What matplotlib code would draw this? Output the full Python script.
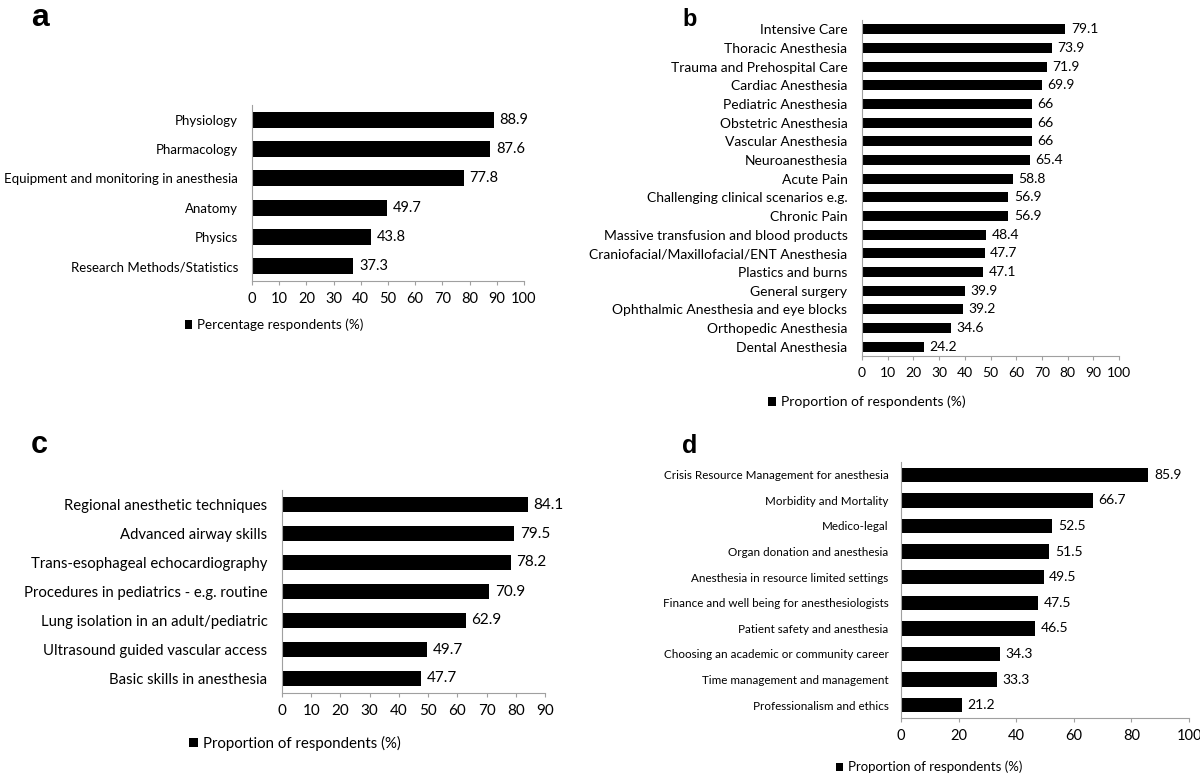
import matplotlib
matplotlib.use("Agg")
import matplotlib.pyplot as plt

plt.rcParams['font.family'] = ['Lato', 'DejaVu Sans']

W, H = 1200, 774

# panel a - basic sciences
a_labels = ["Physiology", "Pharmacology", "Equipment and monitoring in anesthesia",
            "Anatomy", "Physics", "Research Methods/Statistics"]
a_values = [88.9, 87.6, 77.8, 49.7, 43.8, 37.3]

# panel b - subspecialties
b_labels = ["Intensive Care", "Thoracic Anesthesia", "Trauma and Prehospital Care",
            "Cardiac Anesthesia", "Pediatric Anesthesia", "Obstetric Anesthesia",
            "Vascular Anesthesia", "Neuroanesthesia", "Acute Pain",
            "Challenging clinical scenarios e.g.", "Chronic Pain",
            "Massive transfusion and blood products",
            "Craniofacial/Maxillofacial/ENT Anesthesia", "Plastics and burns",
            "General surgery", "Ophthalmic Anesthesia and eye blocks",
            "Orthopedic Anesthesia", "Dental Anesthesia"]
b_values = [79.1, 73.9, 71.9, 69.9, 66, 66, 66, 65.4, 58.8, 56.9, 56.9,
            48.4, 47.7, 47.1, 39.9, 39.2, 34.6, 24.2]

# panel c - skills
c_labels = ["Regional anesthetic techniques", "Advanced airway skills",
            "Trans-esophageal echocardiography",
            "Procedures in pediatrics - e.g. routine",
            "Lung isolation in an adult/pediatric",
            "Ultrasound guided vascular access", "Basic skills in anesthesia"]
c_values = [84.1, 79.5, 78.2, 70.9, 62.9, 49.7, 47.7]

# panel d - non-clinical topics
d_labels = ["Crisis Resource Management for anesthesia", "Morbidity and Mortality",
            "Medico-legal", "Organ donation and anesthesia",
            "Anesthesia in resource limited settings",
            "Finance and well being for anesthesiologists",
            "Patient safety and anesthesia",
            "Choosing an academic or community career",
            "Time management and management", "Professionalism and ethics"]
d_values = [85.9, 66.7, 52.5, 51.5, 49.5, 47.5, 46.5, 34.3, 33.3, 21.2]

fig = plt.figure(figsize=(W / 100, H / 100), dpi=100)


def px_rect(left, right, top, bottom):
    return [left / W, 1 - bottom / H, (right - left) / W, (bottom - top) / H]


def panel(rect, labels, values, xmax, xstep, bar_h, label_fs, value_fs, tick_fs,
          ypad, legend_text, legend_fs, legend_px, letter, letter_px, letter_fs):
    ax = fig.add_axes(rect)
    n = len(labels)
    pos = [n - 1 - i for i in range(n)]
    bars = ax.barh(pos, values, height=bar_h, color='black')
    ax.set_ylim(-0.5, n - 0.5)
    ax.set_xlim(0, xmax)
    ax.set_yticks(pos)
    ax.set_yticklabels(labels, fontsize=label_fs)
    ax.set_xticks(range(0, xmax + 1, xstep))
    ax.tick_params(axis='y', length=0, pad=ypad)
    ax.tick_params(axis='x', length=3, width=0.8, color='#a0a0a0', pad=5,
                   labelsize=tick_fs)
    for s in ['top', 'right']:
        ax.spines[s].set_visible(False)
    for s in ['left', 'bottom']:
        ax.spines[s].set_color('#a0a0a0')
        ax.spines[s].set_linewidth(0.8)
    ax.bar_label(bars, labels=[f"{v:g}" for v in values], padding=4,
                 fontsize=value_fs)
    ax.legend([bars], [legend_text], loc='center',
              bbox_to_anchor=(legend_px[0] / W, 1 - legend_px[1] / H),
              bbox_transform=fig.transFigure, frameon=False, fontsize=legend_fs,
              handlelength=0.55, handleheight=0.55, handletextpad=0.35)
    fig.text(letter_px[0] / W, 1 - letter_px[1] / H, letter, fontsize=letter_fs,
             fontweight='bold', family='Liberation Sans', ha='left', va='baseline')
    return ax


panel(px_rect(252, 524, 105, 281), a_labels, a_values, 100, 10, 0.55,
      9.5, 10.5, 10.5, 10, "Percentage respondents (%)", 9.7, (274, 325),
      "a", (31, 26), 23)
panel(px_rect(862, 1119, 20, 356), b_labels, b_values, 100, 10, 0.53,
      10, 10, 10, 10.5, "Proportion of respondents (%)", 10, (867, 402),
      "b", (682, 26), 17)
panel(px_rect(282, 545, 490, 693), c_labels, c_values, 90, 10, 0.55,
      10.7, 11, 11, 10.5, "Proportion of respondents (%)", 10.8, (295, 743),
      "c", (31, 453), 22)
panel(px_rect(901, 1189, 462, 718), d_labels, d_values, 100, 20, 0.57,
      8.4, 10, 10.5, 9, "Proportion of respondents (%)", 9.5, (929, 767),
      "d", (682, 453), 18)

fig.savefig("out.png", dpi=100)
